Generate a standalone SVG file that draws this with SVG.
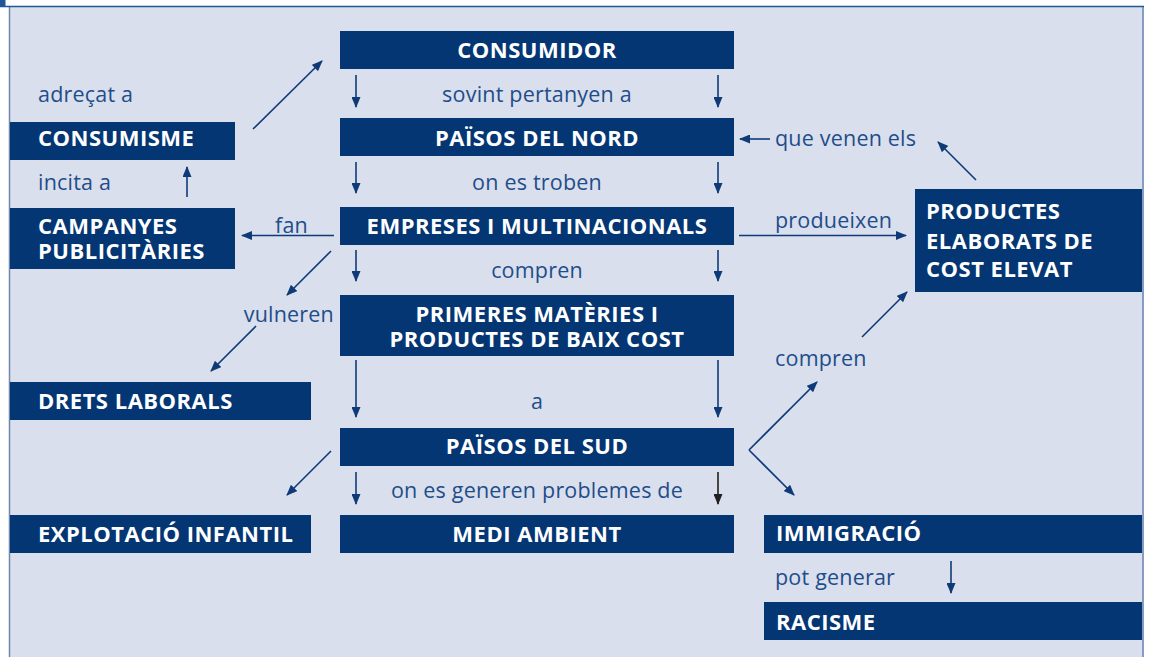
<svg xmlns="http://www.w3.org/2000/svg" width="1151" height="657" viewBox="0 0 1151 657">
<style>
.box{fill:#033673}
.nt{font-family:"Open Sans","Liberation Sans",sans-serif;font-weight:bold;font-size:22px;letter-spacing:0.5px;fill:#ffffff}
.c{text-anchor:middle}
.e{text-anchor:end}
.lb{font-family:"Open Sans","Liberation Sans",sans-serif;font-size:21.5px;letter-spacing:0.2px;fill:#1f4d8a}
.ar{stroke:#0e3b77;stroke-width:1.6;fill:none;marker-end:url(#ah)}
.ark{stroke:#231f20;stroke-width:1.6;fill:none;marker-end:url(#ahk)}
</style>
<defs>
<marker id="ah" markerUnits="userSpaceOnUse" markerWidth="11" markerHeight="9" refX="10" refY="4.5" orient="auto"><path d="M0,0 L11,4.5 L0,9 z" fill="#0e3b77"/></marker>
<marker id="ahk" markerUnits="userSpaceOnUse" markerWidth="11" markerHeight="9" refX="10" refY="4.5" orient="auto"><path d="M0,0 L11,4.5 L0,9 z" fill="#231f20"/></marker>
</defs>
<rect x="0" y="0" width="1151" height="657" fill="#ffffff"/>
<rect x="10" y="7" width="1132.5" height="660" fill="#d9dfed"/>
<line x1="9.5" y1="7" x2="9.5" y2="657" stroke="#6f87b0" stroke-width="1.5"/>
<line x1="1143" y1="7" x2="1143" y2="657" stroke="#7a92ba" stroke-width="1.8"/>
<line x1="0" y1="6.5" x2="1144" y2="6.5" stroke="#1f5896" stroke-width="1.6"/>
<rect x="0" y="0" width="5.5" height="7" fill="#1f5896"/>

<g id="consumidor"><rect class="box" x="340" y="31" width="394" height="38"/><text class="nt c" x="537" y="57.5">CONSUMIDOR</text></g>
<g id="paisos-nord"><rect class="box" x="340" y="118" width="394" height="38"/><text class="nt c" x="537" y="145.5">PAÏSOS DEL NORD</text></g>
<g id="empreses"><rect class="box" x="340" y="207" width="394" height="38"/><text class="nt c" x="537" y="233.5">EMPRESES I MULTINACIONALS</text></g>
<g id="primeres"><rect class="box" x="340" y="295" width="394" height="61"/><text class="nt c" x="537" y="321.5">PRIMERES MATÈRIES I<tspan x="537" dy="25">PRODUCTES DE BAIX COST</tspan></text></g>
<g id="paisos-sud"><rect class="box" x="340" y="428" width="394" height="38"/><text class="nt c" x="537" y="454">PAÏSOS DEL SUD</text></g>
<g id="medi-ambient"><rect class="box" x="340" y="515" width="394" height="38"/><text class="nt c" x="537" y="541.5">MEDI AMBIENT</text></g>
<g id="consumisme"><rect class="box" x="10" y="122" width="225" height="38"/><text class="nt" x="38" y="145.5">CONSUMISME</text></g>
<g id="campanyes"><rect class="box" x="10" y="208" width="225" height="61"/><text class="nt" x="38" y="233.5">CAMPANYES<tspan x="38" dy="25">PUBLICITÀRIES</tspan></text></g>
<g id="drets-laborals"><rect class="box" x="10" y="382" width="301" height="38"/><text class="nt" x="38" y="408.5">DRETS LABORALS</text></g>
<g id="explotacio-infantil"><rect class="box" x="10" y="515" width="301" height="38"/><text class="nt" x="38" y="541.5">EXPLOTACIÓ INFANTIL</text></g>
<g id="productes-elaborats"><rect class="box" x="915" y="189" width="227" height="103"/><text class="nt" x="926" y="219">PRODUCTES<tspan x="926" dy="29.5">ELABORATS DE</tspan><tspan x="926" dy="28.5">COST ELEVAT</tspan></text></g>
<g id="immigracio"><rect class="box" x="764" y="515" width="378" height="38"/><text class="nt" x="776" y="541">IMMIGRACIÓ</text></g>
<g id="racisme"><rect class="box" x="764" y="602" width="378" height="38"/><text class="nt" x="776" y="630">RACISME</text></g>

<g id="labels">
<text class="lb" x="38" y="102">adreçat a</text>
<text class="lb" x="38" y="190">incita a</text>
<text class="lb c" x="537" y="102">sovint pertanyen a</text>
<text class="lb c" x="537" y="189.5">on es troben</text>
<text class="lb" x="775" y="146">que venen els</text>
<text class="lb e" x="308" y="232.5">fan</text>
<text class="lb" x="775" y="228">produeixen</text>
<text class="lb c" x="537" y="277.5">compren</text>
<text class="lb e" x="334" y="321.5">vulneren</text>
<text class="lb" x="775" y="366">compren</text>
<text class="lb c" x="537" y="409">a</text>
<text class="lb c" x="537" y="498">on es generen problemes de</text>
<text class="lb" x="775" y="585">pot generar</text>
</g>

<g id="connectors">
<line class="ar" x1="253" y1="129" x2="322" y2="61"/>
<line class="ar" x1="356" y1="75" x2="356" y2="107"/>
<line class="ar" x1="718" y1="75" x2="718" y2="107"/>
<line class="ar" x1="356" y1="162" x2="356" y2="193"/>
<line class="ar" x1="718" y1="162" x2="718" y2="193"/>
<line class="ar" x1="356" y1="250" x2="356" y2="281"/>
<line class="ar" x1="718" y1="250" x2="718" y2="281"/>
<line class="ar" x1="356" y1="360" x2="356" y2="417"/>
<line class="ar" x1="718" y1="360" x2="718" y2="417"/>
<line class="ar" x1="356" y1="472" x2="356" y2="504"/>
<line class="ark" x1="718" y1="472" x2="718" y2="504"/>
<line class="ar" x1="187" y1="197" x2="187" y2="167"/>
<line class="ar" x1="334" y1="235.5" x2="242" y2="235.5"/>
<line class="ar" x1="331" y1="251" x2="287" y2="295"/>
<line class="ar" x1="256" y1="326" x2="211" y2="371"/>
<line class="ar" x1="331" y1="451" x2="287" y2="495"/>
<line class="ar" x1="770" y1="139" x2="740" y2="139"/>
<line class="ar" x1="976" y1="180" x2="938" y2="142"/>
<line class="ar" x1="739" y1="235.5" x2="906" y2="235.5"/>
<polyline class="ar" points="749,450 817,382"/>
<line class="ar" x1="862" y1="337" x2="907" y2="292"/>
<polyline class="ar" points="749,450 794,495"/>
<line class="ar" x1="951" y1="561" x2="951" y2="593"/>
</g>
</svg>
